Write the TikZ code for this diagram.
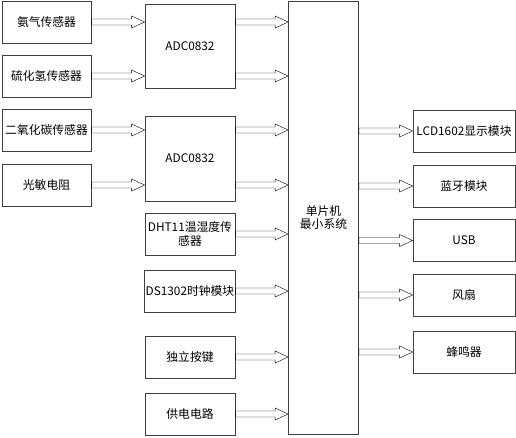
\documentclass[tikz,border=0pt]{standalone}
\usepackage{fontspec}
\setmainfont{Noto Sans CJK SC}
\usetikzlibrary{calc}

\tikzset{
  box/.style={draw=black!75, line width=0.8pt, minimum height=42pt, inner sep=1pt,
    font=\fontsize{11.8}{13.5}\selectfont},
  blk/.style={draw=black!75, line width=0.8pt, to path={
    let \p1=(\tikztostart), \p2=(\tikztotarget) in
    (\x1,\y1+3pt) -- (\x2-13pt,\y1+3pt) -- (\x2-13pt,\y1+6pt) -- (\x2,\y1)
    -- (\x2-13pt,\y1-6pt) -- (\x2-13pt,\y1-3pt) -- (\x1,\y1-3pt) -- cycle}}
}

\begin{document}
\begin{tikzpicture}[x=1pt,y=-1pt]
        \useasboundingbox (0,0) rectangle (516,438);
        % sensors
        \node[box, minimum width=89pt] (nh) at (46.5,22) {氨气传感器};
        \node[box, minimum width=89pt] (hs) at (46.5,76) {硫化氢传感器};
        \node[box, minimum width=89pt] (co) at (46.5,130) {二氧化碳传感器};
        \node[box, minimum width=89pt] (ldr) at (46.5,185) {光敏电阻};
        % converters
        \node[box, minimum width=90pt, minimum height=84pt] (adca) at (190,46) {ADC0832};
        \node[box, minimum width=90pt, minimum height=85pt] (adcb) at (190,158.5) {ADC0832};
        % other inputs
        \node[box, minimum width=90pt, align=center] (dht) at (190,234) {DHT11温湿度传\\感器};
        \node[box, minimum width=90pt] (rtc) at (190,291) {DS1302时钟模块};
        \node[box, minimum width=90pt] (key) at (190,357) {独立按键};
        \node[box, minimum width=90pt] (pwr) at (190,414) {供电电路};
        % controller
        \node[box, minimum width=70pt, minimum height=433pt, align=center] (mcu) at (323.5,217.5) {单片机\\最小系统};
        % outputs
        \node[box, minimum width=102pt] (lcd) at (464,131) {LCD1602显示模块};
        \node[box, minimum width=102pt] (bt) at (464,186) {蓝牙模块};
        \node[box, minimum width=102pt] (usb) at (464,240.5) {USB};
        \node[box, minimum width=102pt] (fan) at (464,295) {风扇};
        \node[box, minimum width=102pt] (buz) at (464,352) {蜂鸣器};
        % sensor arrows
        \draw (nh.east) to[blk] (adca.west |- nh.east);
        \draw (hs.east) to[blk] (adca.west |- hs.east);
        \draw (co.east) to[blk] (adcb.west |- co.east);
        \draw (ldr.east) to[blk] (adcb.west |- ldr.east);
        % arrows into controller
        \draw (adca.east |- nh.east) to[blk] (mcu.west |- nh.east);
        \draw (adca.east |- hs.east) to[blk] (mcu.west |- hs.east);
        \draw (adcb.east |- co.east) to[blk] (mcu.west |- co.east);
        \draw (adcb.east |- ldr.east) to[blk] (mcu.west |- ldr.east);
        \draw (dht.east) to[blk] (mcu.west |- dht.east);
        \draw (rtc.east) to[blk] (mcu.west |- rtc.east);
        \draw (key.east) to[blk] (mcu.west |- key.east);
        \draw (pwr.east) to[blk] (mcu.west |- pwr.east);
        % arrows out of controller
        \draw (mcu.east |- lcd.west) to[blk] (lcd.west);
        \draw (mcu.east |- bt.west) to[blk] (bt.west);
        \draw (mcu.east |- usb.west) to[blk] (usb.west);
        \draw (mcu.east |- fan.west) to[blk] (fan.west);
        \draw (mcu.east |- buz.west) to[blk] (buz.west);
\end{tikzpicture}
\end{document}
